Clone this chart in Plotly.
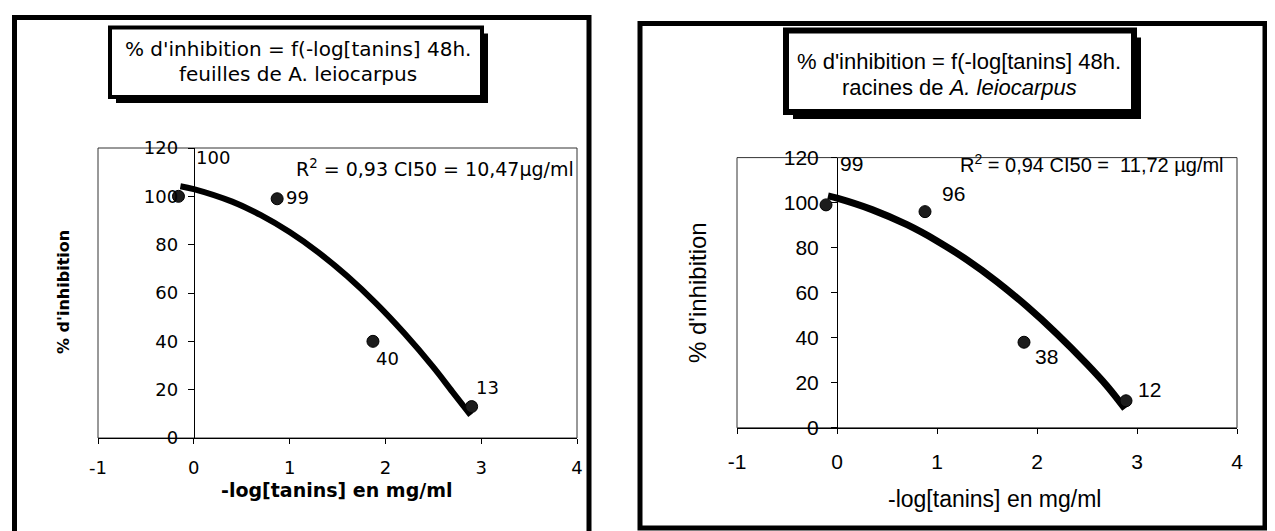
import plotly.graph_objects as go

W, H = 1275, 531
OFF = 8  # the page body keeps its default 8px margin
FW, FH = W - OFF, H - OFF

# ---- data ----
x_feuilles = [-0.16, 0.87, 1.87, 2.90]
y_feuilles = [100, 99, 40, 13]
lab_feuilles = ["100", "99", "40", "13"]
trend_x_feuilles = [-0.14, 0.0, 0.4, 0.7, 1.0, 1.3, 1.6, 1.9, 2.2, 2.5, 2.7, 2.89]
trend_y_feuilles = [104.2, 103, 97.8, 92.2, 85.2, 76.8, 67.0, 55.8, 43.2, 29.3, 19.1, 9.5]

x_racines = [-0.11, 0.88, 1.87, 2.89]
y_racines = [99, 96, 38, 12]
lab_racines = ["99", "96", "38", "12"]
trend_x_racines = [-0.09, 0.0, 0.35, 0.7, 1.0, 1.3, 1.6, 1.9, 2.2, 2.5, 2.7, 2.88]
trend_y_racines = [103.0, 102, 96.9, 90.2, 83, 74.6, 64.9, 53.9, 41.7, 28.3, 18.6, 8.5]

x_ticks = [-1, 0, 1, 2, 3, 4]
x_tick_labels = ["-1", "0", "1", "2", "3", "4"]
y_ticks = [0, 20, 40, 60, 80, 100, 120]

eq_feuilles = "R<sup>2</sup> = 0,93 CI50 = 10,47µg/ml"
eq_racines = "R<sup>2</sup> = 0,94 CI50 =  11,72 µg/ml"


def px(x):
    return (x - OFF) / FW


def py(y):
    return 1 - (y - OFF) / FH


LEFT_FONT = "DejaVu Sans"
RIGHT_FONT = "Liberation Sans"

fig = go.Figure()

# left panel: feuilles
fig.add_trace(go.Scatter(
    x=trend_x_feuilles, y=trend_y_feuilles, mode="lines", line_shape="spline",
    line=dict(color="black", width=6), xaxis="x", yaxis="y", showlegend=False,
))
fig.add_trace(go.Scatter(
    x=x_feuilles, y=y_feuilles, mode="markers",
    marker=dict(size=12, color="#1c1c1c", line=dict(color="black", width=1)),
    xaxis="x", yaxis="y", showlegend=False,
))

# right panel: racines
fig.add_trace(go.Scatter(
    x=trend_x_racines, y=trend_y_racines, mode="lines", line_shape="spline",
    line=dict(color="black", width=7), xaxis="x2", yaxis="y2", showlegend=False,
))
fig.add_trace(go.Scatter(
    x=x_racines, y=y_racines, mode="markers",
    marker=dict(size=12, color="#1c1c1c", line=dict(color="black", width=1)),
    xaxis="x2", yaxis="y2", showlegend=False,
))

common_x = dict(range=[-1, 4], tickvals=x_ticks, ticktext=x_tick_labels,
                showgrid=False, zeroline=False,
                showline=True, linecolor="black", linewidth=1, automargin=False,
                ticks="outside", ticklen=5, tickcolor="black")
common_y = dict(range=[0, 120], tickvals=y_ticks, showgrid=False, zeroline=False,
                showline=True, linecolor="black", linewidth=1, automargin=False,
                ticks="outside", ticklen=6, tickcolor="black")

fig.update_layout(
    width=FW, height=FH,
    margin=dict(l=0, r=0, t=0, b=0, pad=0, autoexpand=False),
    paper_bgcolor="white", plot_bgcolor="white",
    xaxis=dict(common_x, domain=[px(98), px(577)], anchor="y",
               tickfont=dict(family=LEFT_FONT, size=18, color="black"),
               ticklabelstandoff=8),
    yaxis=dict(common_y, domain=[py(438), py(148)], anchor="free",
               position=px(193.8),
               tickfont=dict(family=LEFT_FONT, size=18, color="black"),
               ticklabelstandoff=6),
    xaxis2=dict(common_x, domain=[px(737), px(1237)], anchor="y2",
                tickfont=dict(family=RIGHT_FONT, size=21, color="black"),
                ticklabelstandoff=10),
    yaxis2=dict(common_y, domain=[py(427.8), py(157.6)], anchor="free",
                position=px(837),
                tickfont=dict(family=RIGHT_FONT, size=21, color="black"),
                ticklabelstandoff=8),
)

shapes = []
# plot-area frames
for xr, yr in (("x domain", "y domain"), ("x2 domain", "y2 domain")):
    shapes.append(dict(type="rect", xref=xr, yref=yr, x0=0, x1=1, y0=0, y1=1,
                       line=dict(color="#333", width=1), layer="below"))
# outer panel frames
shapes.append(dict(type="rect", xref="paper", yref="paper",
                   x0=px(14.5), x1=px(589), y0=py(560), y1=py(17.5),
                   line=dict(color="black", width=5)))
shapes.append(dict(type="rect", xref="paper", yref="paper",
                   x0=px(640), x1=px(1265), y0=py(528), y1=py(23.5),
                   line=dict(color="black", width=5)))
# title boxes with drop shadow
for (bx0, by0, bx1, by1, lw, sh) in ((110, 27.5, 482, 97, 4, 6),
                                      (786, 30.5, 1134, 112, 6, 7)):
    shapes.append(dict(type="rect", xref="paper", yref="paper",
                       x0=px(bx1), x1=px(bx1 + sh), y0=py(by1 + sh), y1=py(by0 + sh),
                       fillcolor="black", line=dict(width=0)))
    shapes.append(dict(type="rect", xref="paper", yref="paper",
                       x0=px(bx0 + sh), x1=px(bx1 + sh), y0=py(by1 + sh), y1=py(by1),
                       fillcolor="black", line=dict(width=0)))
    shapes.append(dict(type="rect", xref="paper", yref="paper",
                       x0=px(bx0), x1=px(bx1), y0=py(by1), y1=py(by0),
                       fillcolor="white", line=dict(color="black", width=lw)))
fig.update_layout(shapes=shapes)

ann = []


def text(x, y, s, font, size, xanchor="center", bold=False, angle=0):
    ann.append(dict(xref="paper", yref="paper", x=px(x), y=py(y), text=s,
                    showarrow=False, xanchor=xanchor, yanchor="middle",
                    textangle=angle,
                    font=dict(family=font, size=size, color="black",
                              weight="bold" if bold else "normal")))


# panel titles
text(298, 49, "% d'inhibition = f(-log[tanins] 48h.", LEFT_FONT, 20)
text(298, 74, "feuilles de A. leiocarpus", LEFT_FONT, 20)
text(959, 62, "% d'inhibition = f(-log[tanins] 48h.", RIGHT_FONT, 22)
text(959, 88, "racines de <i>A. leiocarpus</i>", RIGHT_FONT, 22)

# axis titles
text(63, 292, "% d'inhibition", LEFT_FONT, 16, bold=True, angle=-90)
text(337, 490, "-log[tanins] en mg/ml", LEFT_FONT, 19, bold=True)
text(697, 293, "% d'inhibition", RIGHT_FONT, 24, angle=-90)
text(994, 499, "-log[tanins] en mg/ml", RIGHT_FONT, 23)

# regression equations
text(576, 168, eq_feuilles, LEFT_FONT, 19, xanchor="right")
text(1226, 163, eq_racines, RIGHT_FONT, 20, xanchor="right")

# point labels (data coordinates)
lab_pos_feuilles = [(0.0, 116), (0.94, 99.6), (1.88, 33), (2.92, 21)]
for (lx, ly), s in zip(lab_pos_feuilles, lab_feuilles):
    ann.append(dict(xref="x", yref="y", x=lx, y=ly, text=s, showarrow=False,
                    xanchor="left", yanchor="middle",
                    font=dict(family=LEFT_FONT, size=18, color="black")))
lab_pos_racines = [(0.01, 117.5), (1.03, 104), (1.96, 31.5), (2.99, 17)]
for (lx, ly), s in zip(lab_pos_racines, lab_racines):
    ann.append(dict(xref="x2", yref="y2", x=lx, y=ly, text=s, showarrow=False,
                    xanchor="left", yanchor="middle",
                    font=dict(family=RIGHT_FONT, size=21, color="black")))

fig.update_layout(annotations=ann)

fig.write_html("out.html")
